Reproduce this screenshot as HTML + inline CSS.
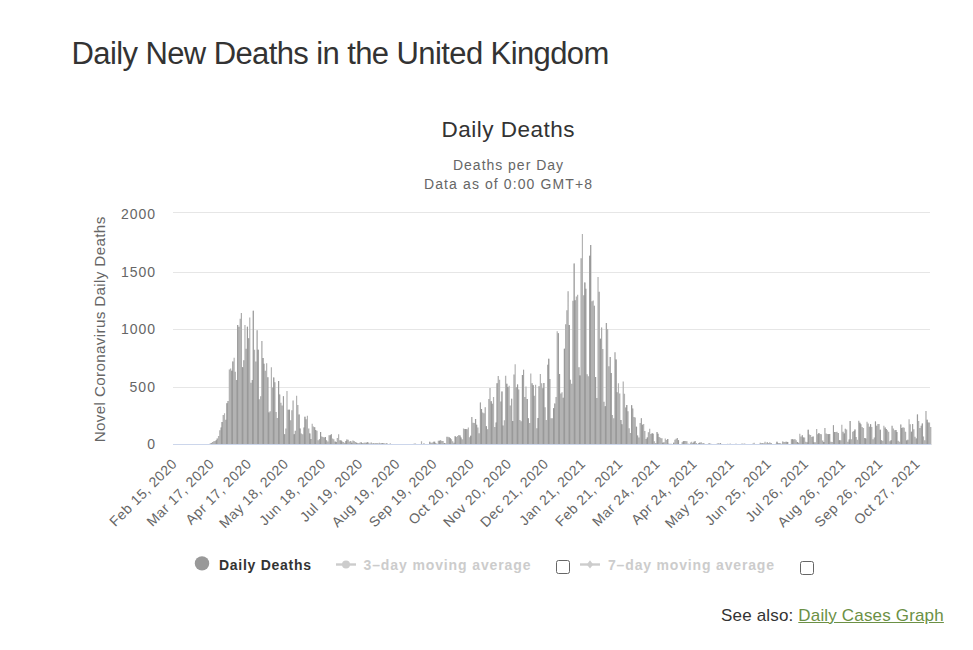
<!DOCTYPE html>
<html><head><meta charset="utf-8">
<style>
html,body{margin:0;padding:0;background:#fff;}
body{width:973px;height:650px;overflow:hidden;position:relative;font-family:"Liberation Sans",sans-serif;}
.t{position:absolute;white-space:nowrap;}
svg text{font-family:"Liberation Sans",sans-serif;}
</style></head><body>
<div class="t" style="left:71.5px;top:37px;font-size:31px;letter-spacing:-0.6px;line-height:34px;color:#333;">Daily New Deaths in the United Kingdom</div>
<svg width="973" height="650" style="position:absolute;left:0;top:0">
<text x="508" y="136.8" text-anchor="middle" font-size="22.5" fill="#333" textLength="133" lengthAdjust="spacing">Daily Deaths</text>
<text x="508" y="170" text-anchor="middle" font-size="14" fill="#666" textLength="110" lengthAdjust="spacing">Deaths per Day</text>
<text x="508" y="189" text-anchor="middle" font-size="14" fill="#666" textLength="168" lengthAdjust="spacing">Data as of 0:00 GMT+8</text>
<text x="105" y="329.5" transform="rotate(-90 105 329.5)" text-anchor="middle" font-size="15.2" fill="#666" textLength="225.5" lengthAdjust="spacing">Novel Coronavirus Daily Deaths</text>
<g font-size="14" fill="#666" text-anchor="end">
<text x="155" y="219" textLength="34" lengthAdjust="spacing">2000</text>
<text x="155" y="276.7" textLength="34" lengthAdjust="spacing">1500</text>
<text x="155" y="334" textLength="34" lengthAdjust="spacing">1000</text>
<text x="155" y="391.8" textLength="25.5" lengthAdjust="spacing">500</text>
<text x="155" y="449">0</text>
</g>
<path d="M173 212.5H930" stroke="#e6e6e6" stroke-width="1"/><path d="M173 272.5H930" stroke="#e6e6e6" stroke-width="1"/><path d="M173 329.5H930" stroke="#e6e6e6" stroke-width="1"/><path d="M173 387.5H930" stroke="#e6e6e6" stroke-width="1"/>
<clipPath id="bc"><path d="M197.52 444.88h1.20V445h-1.20zM198.72 444.88h1.20V445h-1.20zM199.92 444.88h1.20V445h-1.20zM201.12 444.88h1.20V445h-1.20zM202.32 444.88h1.20V445h-1.20zM203.52 444.88h1.20V445h-1.20zM204.72 444.88h1.20V445h-1.20zM205.93 444.88h1.20V445h-1.20zM207.13 444.42h1.20V445h-1.20zM208.33 444.07h1.20V445h-1.20zM209.53 443.61h1.20V445h-1.20zM210.73 443.26h1.20V445h-1.20zM211.93 442.10h1.20V445h-1.20zM213.13 441.29h1.20V445h-1.20zM214.33 440.94h1.20V445h-1.20zM215.53 440.13h1.20V445h-1.20zM216.73 438.62h1.20V445h-1.20zM217.94 436.07h1.20V445h-1.20zM219.14 430.15h1.20V445h-1.20zM220.34 427.60h1.20V445h-1.20zM221.54 422.03h1.20V445h-1.20zM222.74 415.07h1.20V445h-1.20zM223.94 413.22h1.20V445h-1.20zM225.14 419.71h1.20V445h-1.20zM226.34 403.36h1.20V445h-1.20zM227.54 401.04h1.20V445h-1.20zM228.74 369.60h1.20V445h-1.20zM229.94 368.44h1.20V445h-1.20zM231.15 370.76h1.20V445h-1.20zM232.35 361.48h1.20V445h-1.20zM233.55 357.77h1.20V445h-1.20zM234.75 371.69h1.20V445h-1.20zM235.95 379.92h1.20V445h-1.20zM237.15 325.06h1.20V445h-1.20zM238.35 326.80h1.20V445h-1.20zM239.55 318.68h1.20V445h-1.20zM240.75 312.99h1.20V445h-1.20zM241.95 367.16h1.20V445h-1.20zM243.16 360.20h1.20V445h-1.20zM244.36 325.06h1.20V445h-1.20zM245.56 348.72h1.20V445h-1.20zM246.76 326.80h1.20V445h-1.20zM247.96 338.28h1.20V445h-1.20zM249.16 317.52h1.20V445h-1.20zM250.36 382.71h1.20V445h-1.20zM251.56 380.04h1.20V445h-1.20zM252.76 310.67h1.20V445h-1.20zM253.96 349.76h1.20V445h-1.20zM255.16 361.48h1.20V445h-1.20zM256.37 330.16h1.20V445h-1.20zM257.57 349.76h1.20V445h-1.20zM258.77 399.30h1.20V445h-1.20zM259.97 396.28h1.20V445h-1.20zM261.17 341.06h1.20V445h-1.20zM262.37 357.88h1.20V445h-1.20zM263.57 363.80h1.20V445h-1.20zM264.77 370.64h1.20V445h-1.20zM265.97 363.22h1.20V445h-1.20zM267.17 377.14h1.20V445h-1.20zM268.38 412.52h1.20V445h-1.20zM269.58 411.36h1.20V445h-1.20zM270.78 367.16h1.20V445h-1.20zM271.98 387.58h1.20V445h-1.20zM273.18 377.60h1.20V445h-1.20zM274.38 382.36h1.20V445h-1.20zM275.58 412.06h1.20V445h-1.20zM276.78 417.97h1.20V445h-1.20zM277.98 381.08h1.20V445h-1.20zM279.18 394.54h1.20V445h-1.20zM280.38 402.78h1.20V445h-1.20zM281.59 405.56h1.20V445h-1.20zM282.79 396.28h1.20V445h-1.20zM283.99 434.33h1.20V445h-1.20zM285.19 428.53h1.20V445h-1.20zM286.39 391.06h1.20V445h-1.20zM287.59 409.74h1.20V445h-1.20zM288.79 409.74h1.20V445h-1.20zM289.99 420.29h1.20V445h-1.20zM291.19 410.20h1.20V445h-1.20zM292.39 400.46h1.20V445h-1.20zM293.60 434.33h1.20V445h-1.20zM294.80 430.85h1.20V445h-1.20zM296.00 395.70h1.20V445h-1.20zM297.20 405.10h1.20V445h-1.20zM298.40 414.49h1.20V445h-1.20zM299.60 428.53h1.20V445h-1.20zM300.80 433.40h1.20V445h-1.20zM302.00 434.33h1.20V445h-1.20zM303.20 427.60h1.20V445h-1.20zM304.40 416.81h1.20V445h-1.20zM305.60 419.13h1.20V445h-1.20zM306.81 415.65h1.20V445h-1.20zM308.01 428.53h1.20V445h-1.20zM309.21 433.40h1.20V445h-1.20zM310.41 438.97h1.20V445h-1.20zM311.61 423.77h1.20V445h-1.20zM312.81 426.44h1.20V445h-1.20zM314.01 427.37h1.20V445h-1.20zM315.21 429.92h1.20V445h-1.20zM316.41 430.85h1.20V445h-1.20zM317.61 440.24h1.20V445h-1.20zM318.82 439.20h1.20V445h-1.20zM320.02 432.01h1.20V445h-1.20zM321.22 436.42h1.20V445h-1.20zM322.42 436.88h1.20V445h-1.20zM323.62 437.46h1.20V445h-1.20zM324.82 436.88h1.20V445h-1.20zM326.02 440.36h1.20V445h-1.20zM327.22 441.52h1.20V445h-1.20zM328.42 435.37h1.20V445h-1.20zM329.62 435.14h1.20V445h-1.20zM330.82 434.33h1.20V445h-1.20zM332.03 438.39h1.20V445h-1.20zM333.23 439.20h1.20V445h-1.20zM334.43 441.52h1.20V445h-1.20zM335.63 442.10h1.20V445h-1.20zM336.83 438.04h1.20V445h-1.20zM338.03 434.33h1.20V445h-1.20zM339.23 440.36h1.20V445h-1.20zM340.43 440.48h1.20V445h-1.20zM341.63 441.52h1.20V445h-1.20zM342.83 442.10h1.20V445h-1.20zM344.04 442.68h1.20V445h-1.20zM345.24 440.94h1.20V445h-1.20zM346.44 439.43h1.20V445h-1.20zM347.64 439.78h1.20V445h-1.20zM348.84 441.52h1.20V445h-1.20zM350.04 440.94h1.20V445h-1.20zM351.24 442.68h1.20V445h-1.20zM352.44 440.48h1.20V445h-1.20zM353.64 440.94h1.20V445h-1.20zM354.84 441.98h1.20V445h-1.20zM356.04 442.68h1.20V445h-1.20zM357.25 443.26h1.20V445h-1.20zM358.45 442.91h1.20V445h-1.20zM359.65 442.22h1.20V445h-1.20zM360.85 442.45h1.20V445h-1.20zM362.05 443.14h1.20V445h-1.20zM363.25 442.80h1.20V445h-1.20zM364.45 442.45h1.20V445h-1.20zM365.65 442.68h1.20V445h-1.20zM366.85 442.33h1.20V445h-1.20zM368.05 442.56h1.20V445h-1.20zM369.25 443.49h1.20V445h-1.20zM370.46 442.56h1.20V445h-1.20zM371.66 443.72h1.20V445h-1.20zM372.86 442.91h1.20V445h-1.20zM374.06 443.26h1.20V445h-1.20zM375.26 442.91h1.20V445h-1.20zM376.46 443.49h1.20V445h-1.20zM377.66 443.49h1.20V445h-1.20zM378.86 442.68h1.20V445h-1.20zM380.06 443.14h1.20V445h-1.20zM381.26 443.03h1.20V445h-1.20zM382.47 443.14h1.20V445h-1.20zM383.67 443.26h1.20V445h-1.20zM384.87 443.49h1.20V445h-1.20zM386.07 443.03h1.20V445h-1.20zM387.27 443.96h1.20V445h-1.20zM388.47 443.96h1.20V445h-1.20zM389.67 443.14h1.20V445h-1.20zM390.87 444.07h1.20V445h-1.20zM400.48 444.30h1.20V445h-1.20zM408.89 444.65h1.20V445h-1.20zM412.49 444.65h1.20V445h-1.20zM413.69 443.84h1.20V445h-1.20zM414.89 443.61h1.20V445h-1.20zM416.09 444.30h1.20V445h-1.20zM417.29 444.77h1.20V445h-1.20zM418.49 444.77h1.20V445h-1.20zM419.69 444.65h1.20V445h-1.20zM420.90 441.29h1.20V445h-1.20zM422.10 444.07h1.20V445h-1.20zM423.30 443.38h1.20V445h-1.20zM424.50 444.30h1.20V445h-1.20zM425.70 443.96h1.20V445h-1.20zM426.90 444.42h1.20V445h-1.20zM428.10 443.96h1.20V445h-1.20zM429.30 441.87h1.20V445h-1.20zM430.50 442.68h1.20V445h-1.20zM431.70 442.56h1.20V445h-1.20zM432.91 441.87h1.20V445h-1.20zM434.11 441.87h1.20V445h-1.20zM435.31 442.91h1.20V445h-1.20zM436.51 443.72h1.20V445h-1.20zM437.71 440.71h1.20V445h-1.20zM438.91 440.71h1.20V445h-1.20zM440.11 440.36h1.20V445h-1.20zM441.31 441.06h1.20V445h-1.20zM442.51 441.06h1.20V445h-1.20zM443.71 443.03h1.20V445h-1.20zM444.91 443.49h1.20V445h-1.20zM446.12 436.76h1.20V445h-1.20zM447.32 436.76h1.20V445h-1.20zM448.52 437.34h1.20V445h-1.20zM449.72 438.16h1.20V445h-1.20zM450.92 439.32h1.20V445h-1.20zM452.12 441.17h1.20V445h-1.20zM453.32 442.80h1.20V445h-1.20zM454.52 436.18h1.20V445h-1.20zM455.72 436.88h1.20V445h-1.20zM456.92 436.07h1.20V445h-1.20zM458.13 434.91h1.20V445h-1.20zM459.33 435.60h1.20V445h-1.20zM460.53 437.46h1.20V445h-1.20zM461.73 439.20h1.20V445h-1.20zM462.93 428.41h1.20V445h-1.20zM464.13 429.11h1.20V445h-1.20zM465.33 428.99h1.20V445h-1.20zM466.53 429.22h1.20V445h-1.20zM467.73 427.60h1.20V445h-1.20zM468.93 437.23h1.20V445h-1.20zM470.13 435.72h1.20V445h-1.20zM471.34 417.04h1.20V445h-1.20zM472.54 422.84h1.20V445h-1.20zM473.74 423.08h1.20V445h-1.20zM474.94 419.02h1.20V445h-1.20zM476.14 424.82h1.20V445h-1.20zM477.34 427.48h1.20V445h-1.20zM478.54 433.17h1.20V445h-1.20zM479.74 402.43h1.20V445h-1.20zM480.94 409.04h1.20V445h-1.20zM482.14 412.52h1.20V445h-1.20zM483.35 413.22h1.20V445h-1.20zM484.55 407.18h1.20V445h-1.20zM485.75 426.21h1.20V445h-1.20zM486.95 429.22h1.20V445h-1.20zM488.15 398.95h1.20V445h-1.20zM489.35 387.93h1.20V445h-1.20zM490.55 401.15h1.20V445h-1.20zM491.75 403.82h1.20V445h-1.20zM492.95 397.09h1.20V445h-1.20zM494.15 426.90h1.20V445h-1.20zM495.35 422.50h1.20V445h-1.20zM496.56 383.29h1.20V445h-1.20zM497.76 375.98h1.20V445h-1.20zM498.96 379.69h1.20V445h-1.20zM500.16 401.38h1.20V445h-1.20zM501.36 391.41h1.20V445h-1.20zM502.56 425.51h1.20V445h-1.20zM503.76 420.29h1.20V445h-1.20zM504.96 375.63h1.20V445h-1.20zM506.16 383.64h1.20V445h-1.20zM507.36 386.88h1.20V445h-1.20zM508.57 385.72h1.20V445h-1.20zM509.77 405.44h1.20V445h-1.20zM510.97 398.83h1.20V445h-1.20zM512.17 421.10h1.20V445h-1.20zM513.37 374.47h1.20V445h-1.20zM514.57 364.26h1.20V445h-1.20zM515.77 387.23h1.20V445h-1.20zM516.97 384.56h1.20V445h-1.20zM518.17 389.44h1.20V445h-1.20zM519.37 420.06h1.20V445h-1.20zM520.57 421.22h1.20V445h-1.20zM521.78 375.05h1.20V445h-1.20zM522.98 369.83h1.20V445h-1.20zM524.18 396.98h1.20V445h-1.20zM525.38 386.54h1.20V445h-1.20zM526.58 398.95h1.20V445h-1.20zM527.78 418.20h1.20V445h-1.20zM528.98 423.08h1.20V445h-1.20zM530.18 373.54h1.20V445h-1.20zM531.38 383.17h1.20V445h-1.20zM532.58 385.14h1.20V445h-1.20zM533.79 395.82h1.20V445h-1.20zM534.99 384.80h1.20V445h-1.20zM536.19 428.30h1.20V445h-1.20zM537.39 418.09h1.20V445h-1.20zM538.59 386.30h1.20V445h-1.20zM539.79 374.01h1.20V445h-1.20zM540.99 383.29h1.20V445h-1.20zM542.19 388.28h1.20V445h-1.20zM543.39 383.06h1.20V445h-1.20zM544.59 407.18h1.20V445h-1.20zM545.79 420.06h1.20V445h-1.20zM547.00 364.84h1.20V445h-1.20zM548.20 358.70h1.20V445h-1.20zM549.40 378.88h1.20V445h-1.20zM550.60 418.32h1.20V445h-1.20zM551.80 418.32h1.20V445h-1.20zM553.00 408.34h1.20V445h-1.20zM554.20 403.59h1.20V445h-1.20zM555.40 396.98h1.20V445h-1.20zM556.60 331.20h1.20V445h-1.20zM557.80 333.18h1.20V445h-1.20zM559.01 373.89h1.20V445h-1.20zM560.21 393.38h1.20V445h-1.20zM561.41 392.34h1.20V445h-1.20zM562.61 397.79h1.20V445h-1.20zM563.81 348.72h1.20V445h-1.20zM565.01 324.24h1.20V445h-1.20zM566.21 310.21h1.20V445h-1.20zM567.41 291.30h1.20V445h-1.20zM568.61 324.94h1.20V445h-1.20zM569.81 379.69h1.20V445h-1.20zM571.01 383.64h1.20V445h-1.20zM572.22 300.81h1.20V445h-1.20zM573.42 263.58h1.20V445h-1.20zM574.62 300.23h1.20V445h-1.20zM575.82 296.52h1.20V445h-1.20zM577.02 294.78h1.20V445h-1.20zM578.22 367.16h1.20V445h-1.20zM579.42 375.52h1.20V445h-1.20zM580.62 258.24h1.20V445h-1.20zM581.82 233.88h1.20V445h-1.20zM583.02 295.36h1.20V445h-1.20zM584.23 282.48h1.20V445h-1.20zM585.43 288.63h1.20V445h-1.20zM586.63 374.24h1.20V445h-1.20zM587.83 376.33h1.20V445h-1.20zM589.03 255.80h1.20V445h-1.20zM590.23 244.90h1.20V445h-1.20zM591.43 301.28h1.20V445h-1.20zM592.63 300.58h1.20V445h-1.20zM593.83 305.80h1.20V445h-1.20zM595.03 376.91h1.20V445h-1.20zM596.23 397.90h1.20V445h-1.20zM597.44 276.92h1.20V445h-1.20zM598.64 291.65h1.20V445h-1.20zM599.84 338.86h1.20V445h-1.20zM601.04 327.38h1.20V445h-1.20zM602.24 348.95h1.20V445h-1.20zM603.44 401.73h1.20V445h-1.20zM604.64 406.37h1.20V445h-1.20zM605.84 322.97h1.20V445h-1.20zM607.04 328.88h1.20V445h-1.20zM608.24 366.35h1.20V445h-1.20zM609.45 357.07h1.20V445h-1.20zM610.65 372.96h1.20V445h-1.20zM611.85 415.07h1.20V445h-1.20zM613.05 418.32h1.20V445h-1.20zM614.25 352.32h1.20V445h-1.20zM615.45 359.39h1.20V445h-1.20zM616.65 392.34h1.20V445h-1.20zM617.85 383.17h1.20V445h-1.20zM619.05 393.38h1.20V445h-1.20zM620.25 420.06h1.20V445h-1.20zM621.45 424.35h1.20V445h-1.20zM622.66 381.43h1.20V445h-1.20zM623.86 393.73h1.20V445h-1.20zM625.06 407.53h1.20V445h-1.20zM626.26 404.98h1.20V445h-1.20zM627.46 411.36h1.20V445h-1.20zM628.66 428.30h1.20V445h-1.20zM629.86 432.94h1.20V445h-1.20zM631.06 405.21h1.20V445h-1.20zM632.26 408.46h1.20V445h-1.20zM633.46 416.93h1.20V445h-1.20zM634.67 417.62h1.20V445h-1.20zM635.87 426.67h1.20V445h-1.20zM637.07 435.49h1.20V445h-1.20zM638.27 437.46h1.20V445h-1.20zM639.47 422.96h1.20V445h-1.20zM640.67 418.20h1.20V445h-1.20zM641.87 424.70h1.20V445h-1.20zM643.07 424.00h1.20V445h-1.20zM644.27 430.96h1.20V445h-1.20zM645.47 438.97h1.20V445h-1.20zM646.67 437.58h1.20V445h-1.20zM647.88 432.24h1.20V445h-1.20zM649.08 428.64h1.20V445h-1.20zM650.28 433.98h1.20V445h-1.20zM651.48 433.28h1.20V445h-1.20zM652.68 433.86h1.20V445h-1.20zM653.88 441.17h1.20V445h-1.20zM655.08 443.03h1.20V445h-1.20zM656.28 432.01h1.20V445h-1.20zM657.48 433.63h1.20V445h-1.20zM658.68 436.88h1.20V445h-1.20zM659.89 437.69h1.20V445h-1.20zM661.09 438.27h1.20V445h-1.20zM662.29 442.80h1.20V445h-1.20zM663.49 442.33h1.20V445h-1.20zM664.69 438.50h1.20V445h-1.20zM665.89 440.01h1.20V445h-1.20zM667.09 438.97h1.20V445h-1.20zM668.29 443.84h1.20V445h-1.20zM669.49 443.84h1.20V445h-1.20zM670.69 443.84h1.20V445h-1.20zM671.89 443.96h1.20V445h-1.20zM673.10 442.68h1.20V445h-1.20zM674.30 439.78h1.20V445h-1.20zM675.50 438.85h1.20V445h-1.20zM676.70 438.04h1.20V445h-1.20zM677.90 440.36h1.20V445h-1.20zM679.10 444.19h1.20V445h-1.20zM680.30 444.19h1.20V445h-1.20zM681.50 442.33h1.20V445h-1.20zM682.70 441.17h1.20V445h-1.20zM683.90 440.94h1.20V445h-1.20zM685.11 441.06h1.20V445h-1.20zM686.31 441.29h1.20V445h-1.20zM687.51 443.84h1.20V445h-1.20zM688.71 444.54h1.20V445h-1.20zM689.91 442.45h1.20V445h-1.20zM691.11 441.64h1.20V445h-1.20zM692.31 442.91h1.20V445h-1.20zM693.51 441.87h1.20V445h-1.20zM694.71 441.06h1.20V445h-1.20zM695.91 443.03h1.20V445h-1.20zM697.11 444.88h1.20V445h-1.20zM698.32 443.03h1.20V445h-1.20zM699.52 442.45h1.20V445h-1.20zM700.72 442.33h1.20V445h-1.20zM701.92 443.26h1.20V445h-1.20zM703.12 443.26h1.20V445h-1.20zM704.32 444.88h1.20V445h-1.20zM705.52 444.88h1.20V445h-1.20zM706.72 444.54h1.20V445h-1.20zM707.92 443.49h1.20V445h-1.20zM709.12 443.49h1.20V445h-1.20zM710.33 443.72h1.20V445h-1.20zM711.53 444.77h1.20V445h-1.20zM712.73 444.77h1.20V445h-1.20zM713.93 444.54h1.20V445h-1.20zM715.13 444.77h1.20V445h-1.20zM716.33 443.72h1.20V445h-1.20zM717.53 443.03h1.20V445h-1.20zM718.73 443.72h1.20V445h-1.20zM719.93 443.03h1.20V445h-1.20zM721.13 444.19h1.20V445h-1.20zM722.33 444.54h1.20V445h-1.20zM723.54 444.42h1.20V445h-1.20zM724.74 443.96h1.20V445h-1.20zM725.94 444.19h1.20V445h-1.20zM727.14 443.84h1.20V445h-1.20zM728.34 443.96h1.20V445h-1.20zM729.54 443.84h1.20V445h-1.20zM731.94 444.42h1.20V445h-1.20zM733.14 444.42h1.20V445h-1.20zM734.34 444.30h1.20V445h-1.20zM735.55 443.84h1.20V445h-1.20zM739.15 444.65h1.20V445h-1.20zM741.55 443.61h1.20V445h-1.20zM742.75 443.84h1.20V445h-1.20zM743.95 443.49h1.20V445h-1.20zM745.15 444.19h1.20V445h-1.20zM746.35 444.54h1.20V445h-1.20zM748.76 444.30h1.20V445h-1.20zM749.96 444.07h1.20V445h-1.20zM751.16 443.96h1.20V445h-1.20zM752.36 443.49h1.20V445h-1.20zM753.56 442.80h1.20V445h-1.20zM754.76 444.07h1.20V445h-1.20zM755.96 444.65h1.20V445h-1.20zM757.16 444.54h1.20V445h-1.20zM758.36 443.96h1.20V445h-1.20zM759.56 442.80h1.20V445h-1.20zM760.76 443.38h1.20V445h-1.20zM761.97 442.91h1.20V445h-1.20zM763.17 443.26h1.20V445h-1.20zM764.37 441.87h1.20V445h-1.20zM765.57 443.72h1.20V445h-1.20zM766.77 442.33h1.20V445h-1.20zM767.97 442.91h1.20V445h-1.20zM769.17 442.33h1.20V445h-1.20zM770.37 442.91h1.20V445h-1.20zM771.57 444.65h1.20V445h-1.20zM772.77 444.30h1.20V445h-1.20zM773.98 444.42h1.20V445h-1.20zM775.18 443.84h1.20V445h-1.20zM776.38 441.87h1.20V445h-1.20zM777.58 442.91h1.20V445h-1.20zM778.78 442.91h1.20V445h-1.20zM779.98 443.26h1.20V445h-1.20zM781.18 443.96h1.20V445h-1.20zM782.38 441.52h1.20V445h-1.20zM783.58 441.98h1.20V445h-1.20zM784.78 441.75h1.20V445h-1.20zM785.98 441.87h1.20V445h-1.20zM787.19 442.10h1.20V445h-1.20zM788.39 444.30h1.20V445h-1.20zM789.59 444.54h1.20V445h-1.20zM790.79 439.20h1.20V445h-1.20zM791.99 439.32h1.20V445h-1.20zM793.19 439.43h1.20V445h-1.20zM794.39 439.08h1.20V445h-1.20zM795.59 440.24h1.20V445h-1.20zM796.79 442.10h1.20V445h-1.20zM797.99 442.80h1.20V445h-1.20zM799.20 433.86h1.20V445h-1.20zM800.40 436.53h1.20V445h-1.20zM801.60 435.26h1.20V445h-1.20zM802.80 437.58h1.20V445h-1.20zM804.00 437.46h1.20V445h-1.20zM805.20 441.75h1.20V445h-1.20zM806.40 442.22h1.20V445h-1.20zM807.60 429.80h1.20V445h-1.20zM808.80 434.44h1.20V445h-1.20zM810.00 435.02h1.20V445h-1.20zM811.20 437.11h1.20V445h-1.20zM812.41 436.42h1.20V445h-1.20zM813.61 442.22h1.20V445h-1.20zM814.81 442.22h1.20V445h-1.20zM816.01 428.99h1.20V445h-1.20zM817.21 434.33h1.20V445h-1.20zM818.41 433.05h1.20V445h-1.20zM819.61 433.98h1.20V445h-1.20zM820.81 434.33h1.20V445h-1.20zM822.01 440.48h1.20V445h-1.20zM823.21 441.98h1.20V445h-1.20zM824.42 428.06h1.20V445h-1.20zM825.62 433.40h1.20V445h-1.20zM826.82 434.10h1.20V445h-1.20zM828.02 434.33h1.20V445h-1.20zM829.22 434.10h1.20V445h-1.20zM830.42 441.75h1.20V445h-1.20zM831.62 441.98h1.20V445h-1.20zM832.82 425.28h1.20V445h-1.20zM834.02 432.12h1.20V445h-1.20zM835.22 431.89h1.20V445h-1.20zM836.42 431.78h1.20V445h-1.20zM837.63 432.94h1.20V445h-1.20zM838.83 440.36h1.20V445h-1.20zM840.03 440.24h1.20V445h-1.20zM841.23 424.82h1.20V445h-1.20zM842.43 431.78h1.20V445h-1.20zM843.63 433.40h1.20V445h-1.20zM844.83 428.76h1.20V445h-1.20zM846.03 429.57h1.20V445h-1.20zM847.23 441.75h1.20V445h-1.20zM848.43 439.43h1.20V445h-1.20zM849.64 420.99h1.20V445h-1.20zM850.84 439.20h1.20V445h-1.20zM852.04 431.78h1.20V445h-1.20zM853.24 430.96h1.20V445h-1.20zM854.44 429.57h1.20V445h-1.20zM855.64 437.11h1.20V445h-1.20zM856.84 439.78h1.20V445h-1.20zM858.04 420.76h1.20V445h-1.20zM859.24 422.84h1.20V445h-1.20zM860.44 424.35h1.20V445h-1.20zM861.64 426.90h1.20V445h-1.20zM862.85 427.95h1.20V445h-1.20zM864.05 437.92h1.20V445h-1.20zM865.25 438.50h1.20V445h-1.20zM866.45 421.68h1.20V445h-1.20zM867.65 423.54h1.20V445h-1.20zM868.85 426.67h1.20V445h-1.20zM870.05 424.35h1.20V445h-1.20zM871.25 426.90h1.20V445h-1.20zM872.45 439.32h1.20V445h-1.20zM873.65 437.58h1.20V445h-1.20zM874.86 421.45h1.20V445h-1.20zM876.06 425.63h1.20V445h-1.20zM877.26 424.12h1.20V445h-1.20zM878.46 423.89h1.20V445h-1.20zM879.66 429.80h1.20V445h-1.20zM880.86 440.36h1.20V445h-1.20zM882.06 440.71h1.20V445h-1.20zM883.26 425.63h1.20V445h-1.20zM884.46 427.60h1.20V445h-1.20zM885.66 429.11h1.20V445h-1.20zM886.86 430.27h1.20V445h-1.20zM888.07 431.66h1.20V445h-1.20zM889.27 441.17h1.20V445h-1.20zM890.47 440.36h1.20V445h-1.20zM891.67 425.74h1.20V445h-1.20zM892.87 428.41h1.20V445h-1.20zM894.07 430.27h1.20V445h-1.20zM895.27 429.92h1.20V445h-1.20zM896.47 432.01h1.20V445h-1.20zM897.67 440.82h1.20V445h-1.20zM898.87 441.75h1.20V445h-1.20zM900.08 424.58h1.20V445h-1.20zM901.28 428.06h1.20V445h-1.20zM902.48 427.37h1.20V445h-1.20zM903.68 427.83h1.20V445h-1.20zM904.88 431.66h1.20V445h-1.20zM906.08 440.59h1.20V445h-1.20zM907.28 439.78h1.20V445h-1.20zM908.48 419.13h1.20V445h-1.20zM909.68 424.24h1.20V445h-1.20zM910.88 431.66h1.20V445h-1.20zM912.08 424.12h1.20V445h-1.20zM913.29 429.34h1.20V445h-1.20zM914.49 436.65h1.20V445h-1.20zM915.69 438.39h1.20V445h-1.20zM916.89 414.49h1.20V445h-1.20zM918.09 420.99h1.20V445h-1.20zM919.29 427.95h1.20V445h-1.20zM920.49 425.74h1.20V445h-1.20zM921.69 423.42h1.20V445h-1.20zM922.89 436.42h1.20V445h-1.20zM924.09 440.36h1.20V445h-1.20zM925.30 411.01h1.20V445h-1.20zM926.50 419.83h1.20V445h-1.20zM927.70 422.61h1.20V445h-1.20zM928.90 422.50h1.20V445h-1.20zM930.10 427.02h1.20V445h-1.20z" shape-rendering="crispEdges"/></clipPath><g clip-path="url(#bc)"><rect x="170" y="200" width="765" height="246" fill="#b3b3b3"/><path d="M169.01 200h1.7V446h-1.7zM174.20 200h1.7V446h-1.7zM179.39 200h1.7V446h-1.7zM184.58 200h1.7V446h-1.7zM189.77 200h1.7V446h-1.7zM194.96 200h1.7V446h-1.7zM200.15 200h1.7V446h-1.7zM205.34 200h1.7V446h-1.7zM210.52 200h1.7V446h-1.7zM215.71 200h1.7V446h-1.7zM220.90 200h1.7V446h-1.7zM226.09 200h1.7V446h-1.7zM231.28 200h1.7V446h-1.7zM236.47 200h1.7V446h-1.7zM241.66 200h1.7V446h-1.7zM246.85 200h1.7V446h-1.7zM252.04 200h1.7V446h-1.7zM257.22 200h1.7V446h-1.7zM262.41 200h1.7V446h-1.7zM267.60 200h1.7V446h-1.7zM272.79 200h1.7V446h-1.7zM277.98 200h1.7V446h-1.7zM283.17 200h1.7V446h-1.7zM288.36 200h1.7V446h-1.7zM293.55 200h1.7V446h-1.7zM298.74 200h1.7V446h-1.7zM303.93 200h1.7V446h-1.7zM309.12 200h1.7V446h-1.7zM314.30 200h1.7V446h-1.7zM319.49 200h1.7V446h-1.7zM324.68 200h1.7V446h-1.7zM329.87 200h1.7V446h-1.7zM335.06 200h1.7V446h-1.7zM340.25 200h1.7V446h-1.7zM345.44 200h1.7V446h-1.7zM350.63 200h1.7V446h-1.7zM355.82 200h1.7V446h-1.7zM361.00 200h1.7V446h-1.7zM366.19 200h1.7V446h-1.7zM371.38 200h1.7V446h-1.7zM376.57 200h1.7V446h-1.7zM381.76 200h1.7V446h-1.7zM386.95 200h1.7V446h-1.7zM392.14 200h1.7V446h-1.7zM397.33 200h1.7V446h-1.7zM402.52 200h1.7V446h-1.7zM407.71 200h1.7V446h-1.7zM412.89 200h1.7V446h-1.7zM418.08 200h1.7V446h-1.7zM423.27 200h1.7V446h-1.7zM428.46 200h1.7V446h-1.7zM433.65 200h1.7V446h-1.7zM438.84 200h1.7V446h-1.7zM444.03 200h1.7V446h-1.7zM449.22 200h1.7V446h-1.7zM454.41 200h1.7V446h-1.7zM459.60 200h1.7V446h-1.7zM464.78 200h1.7V446h-1.7zM469.97 200h1.7V446h-1.7zM475.16 200h1.7V446h-1.7zM480.35 200h1.7V446h-1.7zM485.54 200h1.7V446h-1.7zM490.73 200h1.7V446h-1.7zM495.92 200h1.7V446h-1.7zM501.11 200h1.7V446h-1.7zM506.30 200h1.7V446h-1.7zM511.49 200h1.7V446h-1.7zM516.67 200h1.7V446h-1.7zM521.86 200h1.7V446h-1.7zM527.05 200h1.7V446h-1.7zM532.24 200h1.7V446h-1.7zM537.43 200h1.7V446h-1.7zM542.62 200h1.7V446h-1.7zM547.81 200h1.7V446h-1.7zM553.00 200h1.7V446h-1.7zM558.19 200h1.7V446h-1.7zM563.38 200h1.7V446h-1.7zM568.56 200h1.7V446h-1.7zM573.75 200h1.7V446h-1.7zM578.94 200h1.7V446h-1.7zM584.13 200h1.7V446h-1.7zM589.32 200h1.7V446h-1.7zM594.51 200h1.7V446h-1.7zM599.70 200h1.7V446h-1.7zM604.89 200h1.7V446h-1.7zM610.08 200h1.7V446h-1.7zM615.27 200h1.7V446h-1.7zM620.46 200h1.7V446h-1.7zM625.64 200h1.7V446h-1.7zM630.83 200h1.7V446h-1.7zM636.02 200h1.7V446h-1.7zM641.21 200h1.7V446h-1.7zM646.40 200h1.7V446h-1.7zM651.59 200h1.7V446h-1.7zM656.78 200h1.7V446h-1.7zM661.97 200h1.7V446h-1.7zM667.16 200h1.7V446h-1.7zM672.34 200h1.7V446h-1.7zM677.53 200h1.7V446h-1.7zM682.72 200h1.7V446h-1.7zM687.91 200h1.7V446h-1.7zM693.10 200h1.7V446h-1.7zM698.29 200h1.7V446h-1.7zM703.48 200h1.7V446h-1.7zM708.67 200h1.7V446h-1.7zM713.86 200h1.7V446h-1.7zM719.05 200h1.7V446h-1.7zM724.24 200h1.7V446h-1.7zM729.42 200h1.7V446h-1.7zM734.61 200h1.7V446h-1.7zM739.80 200h1.7V446h-1.7zM744.99 200h1.7V446h-1.7zM750.18 200h1.7V446h-1.7zM755.37 200h1.7V446h-1.7zM760.56 200h1.7V446h-1.7zM765.75 200h1.7V446h-1.7zM770.94 200h1.7V446h-1.7zM776.12 200h1.7V446h-1.7zM781.31 200h1.7V446h-1.7zM786.50 200h1.7V446h-1.7zM791.69 200h1.7V446h-1.7zM796.88 200h1.7V446h-1.7zM802.07 200h1.7V446h-1.7zM807.26 200h1.7V446h-1.7zM812.45 200h1.7V446h-1.7zM817.64 200h1.7V446h-1.7zM822.83 200h1.7V446h-1.7zM828.01 200h1.7V446h-1.7zM833.20 200h1.7V446h-1.7zM838.39 200h1.7V446h-1.7zM843.58 200h1.7V446h-1.7zM848.77 200h1.7V446h-1.7zM853.96 200h1.7V446h-1.7zM859.15 200h1.7V446h-1.7zM864.34 200h1.7V446h-1.7zM869.53 200h1.7V446h-1.7zM874.72 200h1.7V446h-1.7zM879.90 200h1.7V446h-1.7zM885.09 200h1.7V446h-1.7zM890.28 200h1.7V446h-1.7zM895.47 200h1.7V446h-1.7zM900.66 200h1.7V446h-1.7zM905.85 200h1.7V446h-1.7zM911.04 200h1.7V446h-1.7zM916.23 200h1.7V446h-1.7zM921.42 200h1.7V446h-1.7zM926.61 200h1.7V446h-1.7zM931.79 200h1.7V446h-1.7z" fill="#999999"/></g>
<path d="M173 444.5H931" stroke="#ccd6eb" stroke-width="1"/>
<g font-size="14" fill="#666">
<text x="177.6" y="465" transform="rotate(-45 177.6 465)" text-anchor="end" textLength="88.1" lengthAdjust="spacing">Feb 15, 2020</text>
<text x="214.7" y="465" transform="rotate(-45 214.7 465)" text-anchor="end" textLength="88.1" lengthAdjust="spacing">Mar 17, 2020</text>
<text x="251.9" y="465" transform="rotate(-45 251.9 465)" text-anchor="end" textLength="85.6" lengthAdjust="spacing">Apr 17, 2020</text>
<text x="289.0" y="465" transform="rotate(-45 289.0 465)" text-anchor="end" textLength="90.6" lengthAdjust="spacing">May 18, 2020</text>
<text x="326.2" y="465" transform="rotate(-45 326.2 465)" text-anchor="end" textLength="86.5" lengthAdjust="spacing">Jun 18, 2020</text>
<text x="363.3" y="465" transform="rotate(-45 363.3 465)" text-anchor="end" textLength="81.5" lengthAdjust="spacing">Jul 19, 2020</text>
<text x="400.4" y="465" transform="rotate(-45 400.4 465)" text-anchor="end" textLength="89.0" lengthAdjust="spacing">Aug 19, 2020</text>
<text x="437.6" y="465" transform="rotate(-45 437.6 465)" text-anchor="end" textLength="89.0" lengthAdjust="spacing">Sep 19, 2020</text>
<text x="474.7" y="465" transform="rotate(-45 474.7 465)" text-anchor="end" textLength="85.6" lengthAdjust="spacing">Oct 20, 2020</text>
<text x="511.9" y="465" transform="rotate(-45 511.9 465)" text-anchor="end" textLength="89.0" lengthAdjust="spacing">Nov 20, 2020</text>
<text x="549.0" y="465" transform="rotate(-45 549.0 465)" text-anchor="end" textLength="89.0" lengthAdjust="spacing">Dec 21, 2020</text>
<text x="586.1" y="465" transform="rotate(-45 586.1 465)" text-anchor="end" textLength="86.5" lengthAdjust="spacing">Jan 21, 2021</text>
<text x="623.3" y="465" transform="rotate(-45 623.3 465)" text-anchor="end" textLength="88.1" lengthAdjust="spacing">Feb 21, 2021</text>
<text x="660.4" y="465" transform="rotate(-45 660.4 465)" text-anchor="end" textLength="88.1" lengthAdjust="spacing">Mar 24, 2021</text>
<text x="697.6" y="465" transform="rotate(-45 697.6 465)" text-anchor="end" textLength="85.6" lengthAdjust="spacing">Apr 24, 2021</text>
<text x="734.7" y="465" transform="rotate(-45 734.7 465)" text-anchor="end" textLength="90.6" lengthAdjust="spacing">May 25, 2021</text>
<text x="771.8" y="465" transform="rotate(-45 771.8 465)" text-anchor="end" textLength="86.5" lengthAdjust="spacing">Jun 25, 2021</text>
<text x="809.0" y="465" transform="rotate(-45 809.0 465)" text-anchor="end" textLength="81.5" lengthAdjust="spacing">Jul 26, 2021</text>
<text x="846.1" y="465" transform="rotate(-45 846.1 465)" text-anchor="end" textLength="89.0" lengthAdjust="spacing">Aug 26, 2021</text>
<text x="883.3" y="465" transform="rotate(-45 883.3 465)" text-anchor="end" textLength="89.0" lengthAdjust="spacing">Sep 26, 2021</text>
<text x="920.4" y="465" transform="rotate(-45 920.4 465)" text-anchor="end" textLength="85.6" lengthAdjust="spacing">Oct 27, 2021</text>
</g>
<circle cx="202" cy="563.4" r="7.2" fill="#999"/>
<text x="219" y="569.5" font-size="14" font-weight="bold" fill="#333" textLength="92" lengthAdjust="spacing">Daily Deaths</text>
<path d="M336 564.5H356" stroke="#ccc" stroke-width="2.4"/><circle cx="346" cy="564.5" r="4" fill="#ccc"/>
<text x="363.5" y="570" font-size="14" font-weight="bold" fill="#ccc" textLength="167" lengthAdjust="spacing">3–day moving average</text>
<rect x="556.5" y="560.5" width="13" height="13" rx="2" fill="#fff" stroke="#666" stroke-width="1"/>
<path d="M580 564.5H600" stroke="#ccc" stroke-width="2.4"/><path d="M590 560.2l3.2 4.2l-3.2 4.2l-3.2 -4.2z" fill="#ccc"/>
<text x="608" y="570" font-size="14" font-weight="bold" fill="#ccc" textLength="166" lengthAdjust="spacing">7–day moving average</text>
<rect x="800.5" y="561.5" width="13" height="13" rx="2" fill="#fff" stroke="#666" stroke-width="1"/>
</svg>
<div class="t" style="left:721px;top:606px;font-size:17px;letter-spacing:0.17px;line-height:20px;color:#333;">See also: <span style="color:#6b9045;text-decoration:underline;">Daily Cases Graph</span></div>
</body></html>
